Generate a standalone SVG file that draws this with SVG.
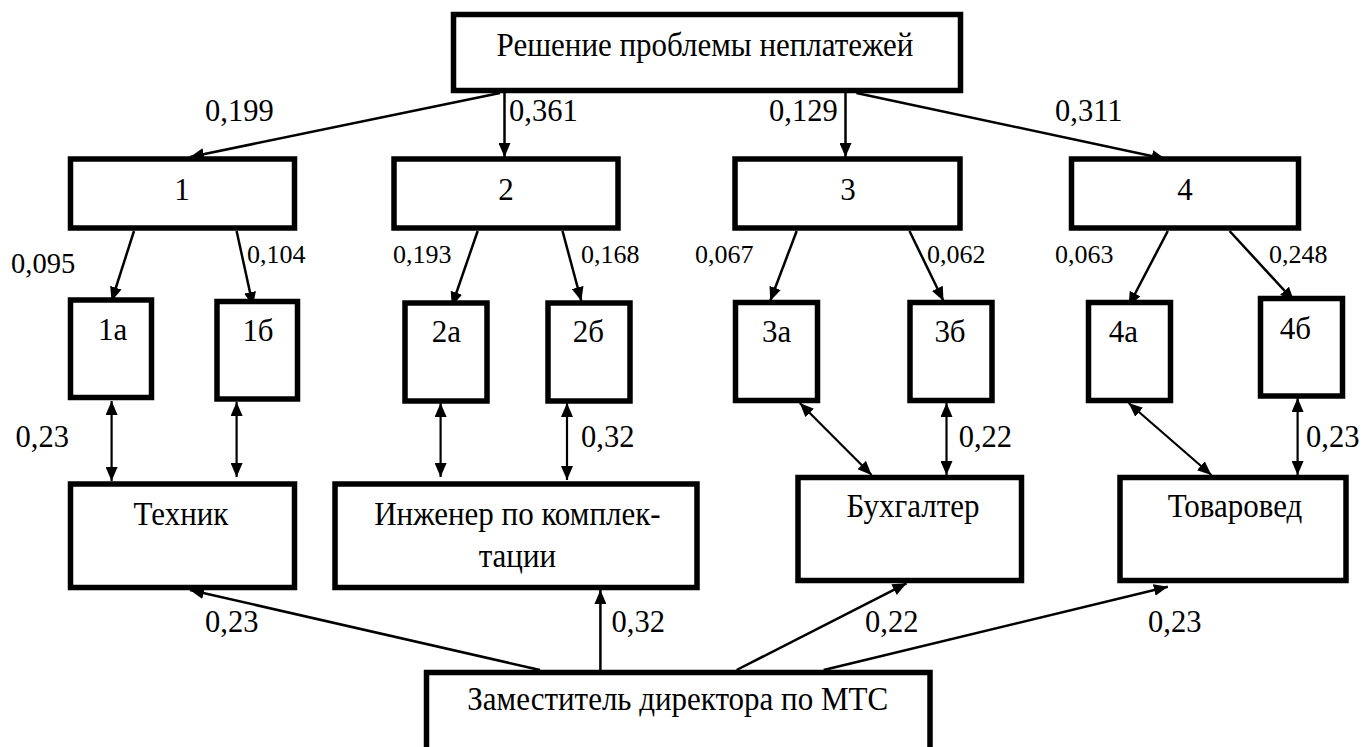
<svg xmlns="http://www.w3.org/2000/svg" width="1363" height="747" viewBox="0 0 1363 747" font-family="'Liberation Serif', 'DejaVu Serif', serif">
<style>
.box{fill:#fff;stroke:#000;stroke-width:5.5}
.t{font-family:'Liberation Serif','DejaVu Serif',serif;font-size:31px;fill:#000}
.c{text-anchor:middle}
.s{font-size:26px}
.lbl{font-size:30.5px}
.ln{stroke:#000;stroke-width:2.5;fill:none;marker-end:url(#ah)}
.dl{stroke:#000;stroke-width:2.2;fill:none;marker-start:url(#ah);marker-end:url(#ah)}
</style>
<defs>
<marker id="ah" viewBox="0 0 14 12" refX="14" refY="6" markerWidth="14" markerHeight="12" markerUnits="userSpaceOnUse" orient="auto-start-reverse">
<path d="M0,0 L14,6 L0,12 z" fill="#000"/>
</marker>
</defs>
<rect width="1363" height="747" fill="#fff"/>

<g id="connectors">
<line class="ln" x1="500" y1="93" x2="190" y2="157"/>
<line class="ln" x1="504.5" y1="93" x2="504.5" y2="157"/>
<line class="ln" x1="845.5" y1="93" x2="845.5" y2="157"/>
<line class="ln" x1="856.4" y1="93" x2="1165.6" y2="159"/>

<line class="ln" x1="134" y1="231" x2="111.6" y2="301"/>
<line class="ln" x1="236.6" y1="231" x2="253" y2="306"/>
<line class="ln" x1="477.7" y1="231" x2="451.8" y2="306"/>
<line class="ln" x1="562.5" y1="231" x2="581.3" y2="301"/>
<line class="ln" x1="796.7" y1="231" x2="770.2" y2="301"/>
<line class="ln" x1="909.5" y1="231" x2="943.5" y2="301"/>
<line class="ln" x1="1167.8" y1="231" x2="1128.6" y2="306"/>
<line class="ln" x1="1229.6" y1="231" x2="1294" y2="301"/>

<line class="dl" x1="111.6" y1="401" x2="111.6" y2="481"/>
<line class="dl" x1="236.6" y1="402" x2="236.6" y2="477"/>
<line class="dl" x1="440.6" y1="403" x2="440.6" y2="477"/>
<line class="dl" x1="567" y1="403" x2="567" y2="480"/>
<line class="dl" x1="799.8" y1="403" x2="871.6" y2="475"/>
<line class="dl" x1="946.5" y1="403" x2="946.5" y2="475"/>
<line class="dl" x1="1128.6" y1="403" x2="1211.4" y2="475"/>
<line class="dl" x1="1297.6" y1="398" x2="1297.6" y2="475"/>

<line class="ln" x1="540" y1="670" x2="190" y2="590"/>
<line class="ln" x1="600.4" y1="670" x2="600.4" y2="590"/>
<line class="ln" x1="736.6" y1="670" x2="906.5" y2="583.3"/>
<line class="ln" x1="823.7" y1="670" x2="1167.8" y2="586.7"/>

<text class="t lbl" x="205" y="121">0,199</text>
<text class="t lbl" x="509" y="121">0,361</text>
<text class="t lbl" x="769" y="121">0,129</text>
<text class="t lbl" x="1055" y="121">0,311</text>
<text class="t" x="11" y="273" style="font-size:28.5px">0,095</text>
<text class="t s" x="247" y="263">0,104</text>
<text class="t s" x="393" y="263">0,193</text>
<text class="t s" x="581" y="263">0,168</text>
<text class="t s" x="695" y="263">0,067</text>
<text class="t s" x="927" y="263">0,062</text>
<text class="t s" x="1055" y="263">0,063</text>
<text class="t s" x="1269" y="263">0,248</text>
<text class="t lbl" x="15.6" y="447">0,23</text>
<text class="t lbl" x="581" y="447">0,32</text>
<text class="t lbl" x="958.7" y="447">0,22</text>
<text class="t lbl" x="1306" y="447">0,23</text>
<text class="t lbl" x="205" y="632">0,23</text>
<text class="t lbl" x="611.6" y="632">0,32</text>
<text class="t lbl" x="865" y="632">0,22</text>
<text class="t lbl" x="1148" y="632">0,23</text>
</g>

<g id="root"><rect class="box" x="453.5" y="14.5" width="507" height="76"/><text class="t c" transform="translate(705 56) scale(1 1.07)">Решение проблемы неплатежей</text></g>

<g id="n1"><rect class="box" x="70.5" y="159" width="224" height="69"/><text class="t c" transform="translate(182 200) scale(1 1.05)">1</text></g>
<g id="n2"><rect class="box" x="394" y="159" width="224" height="69"/><text class="t c" transform="translate(506 200) scale(1 1.05)">2</text></g>
<g id="n3"><rect class="box" x="735" y="159" width="225" height="69"/><text class="t c" transform="translate(848 200) scale(1 1.05)">3</text></g>
<g id="n4"><rect class="box" x="1071.5" y="159" width="227" height="69"/><text class="t c" transform="translate(1185 200) scale(1 1.05)">4</text></g>

<g id="n1a"><rect class="box" x="70.5" y="300" width="81" height="97.5"/><text class="t c" transform="translate(112.5 340) scale(1 1.05)">1а</text></g>
<g id="n1b"><rect class="box" x="217" y="301.5" width="80.5" height="97.5"/><text class="t c" transform="translate(258 341) scale(1 1.05)">1б</text></g>
<g id="n2a"><rect class="box" x="405" y="303" width="82" height="98"/><text class="t c" transform="translate(446.4 342) scale(1 1.05)">2а</text></g>
<g id="n2b"><rect class="box" x="548" y="303" width="82" height="98"/><text class="t c" transform="translate(588.4 342) scale(1 1.05)">2б</text></g>
<g id="n3a"><rect class="box" x="735.5" y="302.5" width="82" height="98"/><text class="t c" transform="translate(776.7 342) scale(1 1.05)">3а</text></g>
<g id="n3b"><rect class="box" x="910" y="302.5" width="82" height="98"/><text class="t c" transform="translate(950 342) scale(1 1.05)">3б</text></g>
<g id="n4a"><rect class="box" x="1088.5" y="302.5" width="82" height="98"/><text class="t c" transform="translate(1123.4 342) scale(1 1.05)">4а</text></g>
<g id="n4b"><rect class="box" x="1260.5" y="298.5" width="82" height="97.5"/><text class="t c" transform="translate(1295.4 338.5) scale(1 1.05)">4б</text></g>

<g id="technik"><rect class="box" x="70.5" y="484" width="224" height="103.5"/><text class="t c" transform="translate(181 525) scale(1 1.1)">Техник</text></g>
<g id="engineer"><rect class="box" x="335" y="484" width="362" height="103.5"/><text class="t c" transform="translate(517.4 525) scale(1 1.1)">Инженер по комплек-</text><text class="t c" transform="translate(517.4 567) scale(1 1.1)">тации</text></g>
<g id="accountant"><rect class="box" x="798" y="477.5" width="223.5" height="103"/><text class="t c" transform="translate(913 517) scale(1 1.1)">Бухгалтер</text></g>
<g id="merch"><rect class="box" x="1120" y="477.5" width="226" height="103"/><text class="t c" transform="translate(1235 517) scale(1 1.1)">Товаровед</text></g>
<g id="deputy"><rect class="box" x="426.5" y="672.5" width="503.5" height="100"/><text class="t c" transform="translate(677.7 710) scale(1 1.1)">Заместитель директора по МТС</text></g>
</svg>
